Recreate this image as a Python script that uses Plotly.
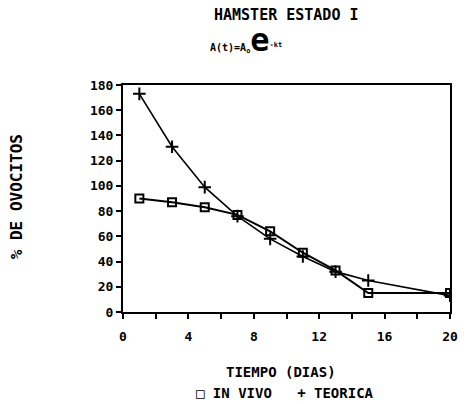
import plotly.graph_objects as go

dias = [1, 3, 5, 7, 9, 11, 13, 15, 20]
in_vivo = [90, 87, 83, 77, 64, 47, 33, 15, 15]
teorica = [173, 131, 99, 76, 58, 44, 32, 25, 13]

FONT = "DejaVu Sans Mono"
W, H = 470, 404
ML, MR, MT, MB = 123, 13, 85, 92
PW = W - ML - MR
PH = H - MT - MB


def px(x, y):
    return (x - ML) / PW, (H - y - MB) / PH


fig = go.Figure()
fig.add_trace(go.Scatter(
    x=dias, y=in_vivo, mode="lines+markers", name="IN VIVO",
    line=dict(color="black", width=2),
    marker=dict(symbol="square-open", size=8, color="black", line=dict(width=2)),
))
fig.add_trace(go.Scatter(
    x=dias, y=teorica, mode="lines+markers", name="TEORICA",
    line=dict(color="black", width=1.6),
    marker=dict(symbol="cross-thin-open", size=9, color="black", line=dict(width=2)),
))

axis_common = dict(
    showline=True, linecolor="black", linewidth=2, mirror=True,
    ticks="outside", ticklen=5, tickwidth=2, tickcolor="black",
    showgrid=False, zeroline=False,
    tickfont=dict(family=FONT, size=13, color="black", weight="bold"),
)
fig.update_xaxes(range=[0, 20], dtick=4, tick0=0, ticklabelstandoff=6,
                 minor=dict(dtick=2, ticks="outside", ticklen=5, tickwidth=2, tickcolor="black"),
                 **axis_common)
fig.update_yaxes(range=[0, 180], dtick=20, tick0=0, ticklabelstandoff=0, **axis_common)

anns = []


def add(text, x, y, size, angle=0):
    ax, ay = px(x, y)
    anns.append(dict(text=text, x=ax, y=ay, xref="paper", yref="paper",
                     xanchor="center", yanchor="middle", showarrow=False,
                     textangle=angle, font=dict(family=FONT, size=size, color="black")))


add("<b>HAMSTER ESTADO I</b>", 290, 15, 15)
add("<b>A(t)=A<sub>o</sub></b><span style='font-size:32px'><b>e</b></span><sup><b>-kt</b></sup>",
    249, 40, 10)
add("<b>TIEMPO (DIAS)</b>", 284, 372, 14)
add("<b>\u25a1 IN VIVO   + TEORICA</b>", 288, 393, 14)
add("<b>% DE OVOCITOS</b>", 14, 197, 16, -90)

fig.update_layout(
    width=W, height=H,
    margin=dict(l=ML, r=MR, t=MT, b=MB),
    paper_bgcolor="white", plot_bgcolor="white",
    showlegend=False,
    font=dict(family=FONT, color="black"),
    annotations=anns,
)

fig.write_html("out.html")
